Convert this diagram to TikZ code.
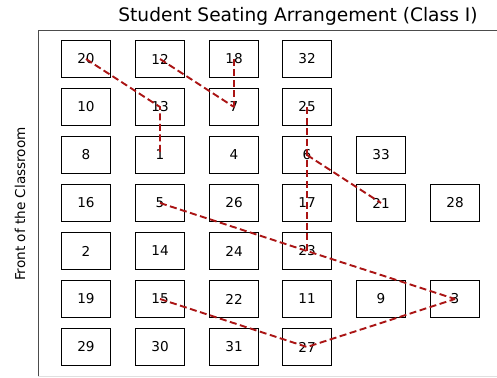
\documentclass[tikz,border=0pt]{standalone}
\usepackage{fontspec}
\setmainfont{DejaVu Sans}
\usetikzlibrary{positioning}
\definecolor{pathred}{RGB}{170,20,20}

\begin{document}
\begin{tikzpicture}[x=1pt,y=-1pt,font=\fontsize{13.6}{16}\selectfont,
  seat/.style={draw,thick,minimum width=49pt,minimum height=37pt,inner sep=0pt},
  walk/.style={pathred,line width=1.9pt,dash pattern=on 7pt off 3.5pt}]
\useasboundingbox (0,0) rectangle (497,377);
%frame
\draw[thin,black!70] (38,377) -- (38,30) -- (497,30);
\draw[black!12] (38,376.5) -- (497,376.5);
\node (title) at (298,16) {\fontsize{18.6}{22}\selectfont Student Seating Arrangement (Class I)};
\node[rotate=90] (front) at (20,204) {Front of the Classroom};
%row 1
\node[seat] (s20) at (86,59) {20};
\node[seat] (s12) at (160,59) {12};
\node[seat] (s18) at (234,59) {18};
\node[seat] (s32) at (307,59) {32};
%row 2
\node[seat] (s10) at (86,107) {10};
\node[seat] (s13) at (160,107) {13};
\node[seat] (s7) at (234,107) {7};
\node[seat] (s25) at (307,107) {25};
%row 3
\node[seat] (s8) at (86,155) {8};
\node[seat] (s1) at (160,155) {1};
\node[seat] (s4) at (234,155) {4};
\node[seat] (s6) at (307,155) {6};
\node[seat] (s33) at (381,155) {33};
%row 4
\node[seat] (s16) at (86,203) {16};
\node[seat] (s5) at (160,203) {5};
\node[seat] (s26) at (234,203) {26};
\node[seat] (s17) at (307,203) {17};
\node[seat] (s21) at (381,203) {21};
\node[seat] (s28) at (455,203) {28};
%row 5
\node[seat] (s2) at (86,251) {2};
\node[seat] (s14) at (160,251) {14};
\node[seat] (s24) at (234,251) {24};
\node[seat] (s23) at (307,251) {23};
%row 6
\node[seat] (s19) at (86,299) {19};
\node[seat] (s15) at (160,299) {15};
\node[seat] (s22) at (234,299) {22};
\node[seat] (s11) at (307,299) {11};
\node[seat] (s9) at (381,299) {9};
\node[seat] (s3) at (455,299) {3};
%row 7
\node[seat] (s29) at (86,347) {29};
\node[seat] (s30) at (160,347) {30};
\node[seat] (s31) at (234,347) {31};
\node[seat] (s27) at (307,347) {27};
%paths
\draw[walk] (s20.center) -- (s13.center) -- (s1.center);
\draw[walk] (s12.center) -- (s7.center);
\draw[walk] (s18.center) -- (s7.center);
\draw[walk] (s25.center) -- (s6.center) -- (s17.center) -- (s23.center);
\draw[walk] (s6.center) -- (s21.center);
\draw[walk] (s5.center) -- (s23.center) -- (s3.center);
\draw[walk] (s15.center) -- (s27.center) -- (s3.center);
\end{tikzpicture}
\end{document}
